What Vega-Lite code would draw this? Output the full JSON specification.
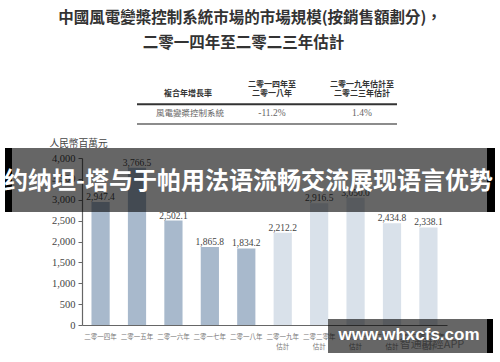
{
  "$schema": "https://vega.github.io/schema/vega-lite/v6.json",
  "width": 365,
  "height": 167,
  "autosize": {"type": "none"},
  "padding": {"left": 82, "top": 158, "right": 53, "bottom": 37},
  "background": "white",
  "config": {"view": {"stroke": null}},
  "layer": [
    {
      "data": {"values": [
        {"year": "二零一四年", "value": 2947.4, "type": "actual"},
        {"year": "二零一五年", "value": 3766.5, "type": "actual"},
        {"year": "二零一六年", "value": 2502.1, "type": "actual"},
        {"year": "二零一七年", "value": 1865.8, "type": "actual"},
        {"year": "二零一八年", "value": 1834.2, "type": "actual"},
        {"year": "二零一九年估計", "value": 2212.2, "type": "est"},
        {"year": "二零二零年估計", "value": 2916.5, "type": "est"},
        {"year": "二零二一年估計", "value": 3050.0, "type": "est"},
        {"year": "二零二二年估計", "value": 2434.8, "type": "est"},
        {"year": "二零二三年估計", "value": 2338.1, "type": "est"}
      ]},
      "encoding": {
        "x": {
          "field": "year", "type": "nominal", "sort": null,
          "scale": {"paddingInner": 0.5, "paddingOuter": 0.26},
          "axis": {
            "title": null, "labelAngle": 0,
            "labelExpr": "length(datum.label) > 5 ? [slice(datum.label,0,5), slice(datum.label,5)] : datum.label",
            "labelFont": "Noto Sans CJK TC", "labelFontSize": 6.5, "labelColor": "#777",
            "labelLineHeight": 10, "labelPadding": 8, "ticks": false, "tickSize": 0,
            "domainColor": "#666", "domainWidth": 1.2
          }
        },
        "y": {
          "field": "value", "type": "quantitative",
          "scale": {"domain": [0, 4000], "nice": false},
          "axis": {
            "values": [0, 500, 1000, 1500, 2000, 2500, 3000, 3500, 4000],
            "format": ",d", "grid": false,
            "labelFont": "Liberation Serif", "labelFontSize": 10.5, "labelColor": "#444",
            "labelPadding": 3, "tickSize": 4, "tickColor": "#666",
            "domainColor": "#666", "domainWidth": 1.2,
            "title": "人民幣百萬元", "titleAngle": 0, "titleAlign": "left", "titleBaseline": "middle",
            "titleX": -33, "titleY": -15, "titleFont": "Noto Sans CJK TC", "titleFontSize": 9.7,
            "titleFontWeight": "normal", "titleColor": "#444"
          }
        }
      },
      "layer": [
        {
          "mark": {"type": "bar"},
          "encoding": {
            "color": {"field": "type", "type": "nominal",
              "scale": {"domain": ["actual", "est"], "range": ["#a8b9cc", "#d9e1ea"]},
              "legend": null}
          }
        },
        {
          "mark": {"type": "text", "baseline": "alphabetic", "dy": -2, "font": "Liberation Serif", "fontSize": 9.5, "fill": "#444"},
          "encoding": {"text": {"field": "value", "type": "quantitative", "format": ",.1f"}}
        }
      ]
    },
    {
      "encoding": {
        "x": {"field": "x", "type": "quantitative", "scale": {"domain": [0, 1], "nice": false, "zero": false}, "axis": null},
        "y": {"field": "y", "type": "quantitative", "scale": {"domain": [0, 1], "nice": false, "zero": false}, "axis": null}
      },
      "layer": [
        {
          "data": {"values": [
            {"x": 0.4603, "y": 1.8383, "t": "中國風電變槳控制系統市場的市場規模(按銷售額劃分)，"},
            {"x": 0.4425, "y": 1.6886, "t": "二零一四年至二零二三年估計"}
          ]},
          "mark": {"type": "text", "font": "Noto Sans CJK TC", "fontWeight": "bold", "fontSize": 15.5, "fill": "#333", "align": "center", "baseline": "middle"},
          "encoding": {"text": {"field": "t"}}
        },
        {
          "data": {"values": [
            {"x": 0.2904, "y": 1.3814, "t": "複合年增長率"},
            {"x": 0.5205, "y": 1.4371, "t": "二零一四年至"},
            {"x": 0.5205, "y": 1.3814, "t": "二零一八年"},
            {"x": 0.7671, "y": 1.4371, "t": "二零一九年估計至"},
            {"x": 0.7671, "y": 1.3814, "t": "二零二三年估計"}
          ]},
          "mark": {"type": "text", "font": "Noto Sans CJK TC", "fontWeight": "bold", "fontSize": 8, "fill": "#333", "align": "center", "baseline": "middle"},
          "encoding": {"text": {"field": "t"}}
        },
        {
          "data": {"values": [
            {"x": 0.2959, "y": 1.2677, "t": "風電變槳控制系統"}
          ]},
          "mark": {"type": "text", "font": "Noto Sans CJK TC", "fontSize": 8.5, "fill": "#666", "align": "center", "baseline": "middle"},
          "encoding": {"text": {"field": "t"}}
        },
        {
          "data": {"values": [
            {"x": 0.5205, "y": 1.2677, "t": "-11.2%"},
            {"x": 0.7671, "y": 1.2677, "t": "1.4%"}
          ]},
          "mark": {"type": "text", "font": "Liberation Serif", "fontSize": 9.5, "fill": "#666", "align": "center", "baseline": "middle"},
          "encoding": {"text": {"field": "t"}}
        },
        {
          "data": {"values": [{"x": 0.1507, "x2": 0.863, "y": 1.3216}]},
          "mark": {"type": "rule", "stroke": "#333", "strokeWidth": 2},
          "encoding": {"x2": {"field": "x2"}}
        },
        {
          "data": {"values": [{"x": 0.1507, "x2": 0.863, "y": 1.2036}]},
          "mark": {"type": "rule", "stroke": "#666", "strokeWidth": 1.5},
          "encoding": {"x2": {"field": "x2"}}
        },
        {
          "data": {"values": [{"x": 0.959, "y": -0.1198, "t": "智通財經APP"}]},
          "mark": {"type": "text", "font": "Noto Sans CJK SC", "fontSize": 11, "fill": "#999", "align": "center", "baseline": "middle"},
          "encoding": {"text": {"field": "t"}}
        },
        {
          "data": {"values": [
            {"x": -0.1918, "x2": 1.1096, "y": 1.0599, "y2": 0.6766},
            {"x": 0.674, "x2": 1.1096, "y": 0.0359, "y2": -0.1677}
          ]},
          "mark": {"type": "rect", "fill": "#000", "fillOpacity": 0.6},
          "encoding": {"x2": {"field": "x2"}, "y2": {"field": "y2"}}
        },
        {
          "data": {"values": [
            {"x": -0.211, "x2": -0.1918, "y": 1.0599, "y2": 0.6766},
            {"x": 1.1096, "x2": 1.1315, "y": 1.0599, "y2": 0.6766},
            {"x": 1.1096, "x2": 1.126, "y": 0.0359, "y2": -0.1677}
          ]},
          "mark": {"type": "rect", "fill": "#000"},
          "encoding": {"x2": {"field": "x2"}, "y2": {"field": "y2"}}
        },
        {
          "data": {"values": [{"x": 0.4562, "y": 0.8563, "t": "约纳坦-塔与于帕用法语流畅交流展现语言优势"}]},
          "mark": {"type": "text", "font": "Noto Sans CJK SC", "fontWeight": "bold", "fontSize": 24, "fill": "white", "align": "center", "baseline": "middle"},
          "encoding": {"text": {"field": "t"}}
        },
        {
          "data": {"values": [{"x": 0.8959, "y": -0.0599, "t": "www.whxcfs.com"}]},
          "mark": {"type": "text", "font": "Liberation Sans", "fontWeight": "bold", "fontSize": 17, "fill": "white", "align": "center", "baseline": "middle"},
          "encoding": {"text": {"field": "t"}}
        }
      ]
    }
  ],
  "resolve": {"scale": {"x": "independent", "y": "independent"}}
}
